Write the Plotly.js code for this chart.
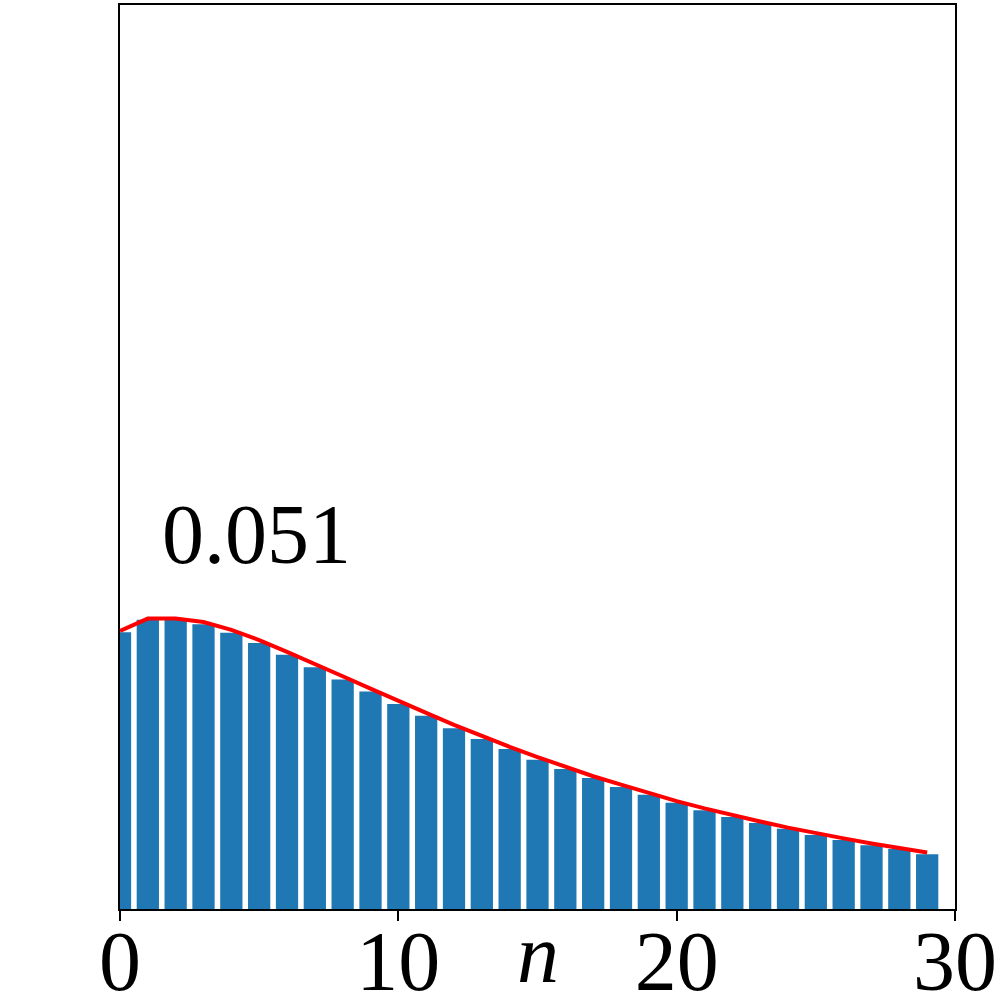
<!DOCTYPE html>
<html>
<head>
<meta charset="utf-8">
<script src="https://cdn.plot.ly/plotly-3.0.1.min.js"></script>
<style>html,body{margin:0;padding:0;background:#fff;}</style>
</head>
<body>
<div id="chart" style="width:1000px;height:1000px;"></div>
<script>
const n = [0,1,2,3,4,5,6,7,8,9,10,11,12,13,14,15,16,17,18,19,20,21,22,23,24,25,26,27,28,29];
const barValues = [0.0490,0.0512,0.0512,0.0504,0.0489,0.0471,0.0450,0.0428,0.0406,0.0385,0.0363,0.0342,0.0320,0.0301,0.0283,0.0264,0.0248,0.0232,0.0216,0.0202,0.0188,0.0175,0.0163,0.0152,0.0142,0.0131,0.0122,0.0113,0.0106,0.0097];
const curveValues = [0.0492,0.0514,0.0514,0.0508,0.0494,0.0476,0.0455,0.0434,0.0412,0.0390,0.0368,0.0347,0.0326,0.0306,0.0287,0.0269,0.0252,0.0235,0.0220,0.0205,0.0191,0.0178,0.0166,0.0155,0.0144,0.0134,0.0125,0.0116,0.0108,0.0100];
const xTicks = [0,10,20,30];
const peakLabel = "0.051";

const font = "Liberation Serif, Times New Roman, serif";

Plotly.newPlot('chart', [
  {type:'bar', x:n, y:barValues, width:0.8, marker:{color:'#1f77b4', line:{width:0}}, hoverinfo:'none'},
  {type:'scatter', mode:'lines', x:n, y:curveValues, line:{color:'#ff0000', width:4}, hoverinfo:'none'}
], {
  width:1000, height:1000,
  margin:{l:120, r:45, t:5, b:91, pad:0},
  paper_bgcolor:'#fff', plot_bgcolor:'#fff',
  showlegend:false,
  xaxis:{range:[0,30], tickvals:xTicks, ticktext:xTicks.map(String), ticks:'outside', ticklen:10, tickwidth:2, tickcolor:'#000',
         ticklabelstandoff:-32,
         showline:true, mirror:true, linecolor:'#000', linewidth:2, showgrid:false, zeroline:false,
         tickfont:{family:font, size:84, color:'#000'}},
  yaxis:{range:[0,0.16], showticklabels:false, ticks:'', showline:true, mirror:true, linecolor:'#000', linewidth:2,
         showgrid:false, zeroline:false},
  annotations:[
    {x:4.9, y:0.0662, xref:'x', yref:'y', text:peakLabel, showarrow:false, font:{family:font, size:84, color:'#000'}},
    {x:0.5, y:-0.049, xref:'paper', yref:'paper', text:'<i>n</i>', showarrow:false, yanchor:'middle', font:{family:font, size:84, color:'#000'}}
  ]
}, {staticPlot:true});
</script>
</body>
</html>
